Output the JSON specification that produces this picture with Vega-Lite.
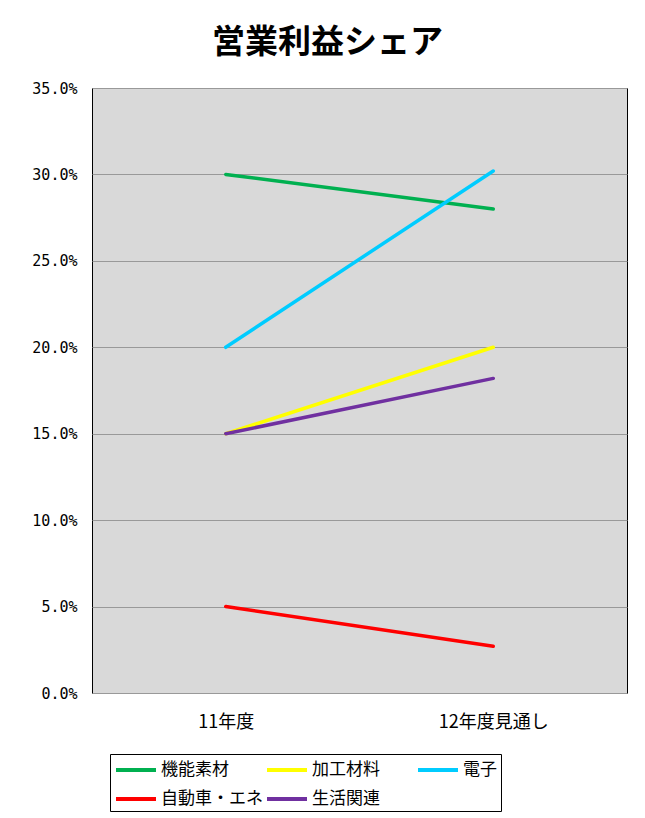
{
  "$schema": "https://vega.github.io/schema/vega-lite/v6.json",
  "autosize": {"type": "none"},
  "width": 535,
  "height": 605,
  "padding": {"left": 92, "top": 88, "right": 18, "bottom": 125},
  "background": "white",
  "title": {
    "text": "営業利益シェア",
    "font": "Noto Sans CJK JP",
    "fontSize": 33,
    "fontWeight": "bold",
    "color": "black",
    "anchor": "middle",
    "dx": -32,
    "offset": 21
  },
  "data": {
    "values": [
      {"year": "11年度", "series": "機能素材", "value": 0.300},
      {"year": "12年度見通し", "series": "機能素材", "value": 0.280},
      {"year": "11年度", "series": "加工材料", "value": 0.150},
      {"year": "12年度見通し", "series": "加工材料", "value": 0.200},
      {"year": "11年度", "series": "電子", "value": 0.200},
      {"year": "12年度見通し", "series": "電子", "value": 0.302},
      {"year": "11年度", "series": "自動車・エネ", "value": 0.050},
      {"year": "12年度見通し", "series": "自動車・エネ", "value": 0.027},
      {"year": "11年度", "series": "生活関連", "value": 0.150},
      {"year": "12年度見通し", "series": "生活関連", "value": 0.182}
    ]
  },
  "mark": {"type": "line", "strokeWidth": 3.5, "strokeCap": "round"},
  "encoding": {
    "x": {
      "field": "year",
      "type": "nominal",
      "sort": ["11年度", "12年度見通し"],
      "scale": {"type": "point", "padding": 0.5},
      "axis": {
        "title": null,
        "labelAngle": 0,
        "domain": false,
        "ticks": false,
        "labelFont": "Noto Sans CJK JP",
        "labelFontSize": 18,
        "labelColor": "black",
        "labelPadding": 20
      }
    },
    "y": {
      "field": "value",
      "type": "quantitative",
      "scale": {"domain": [0, 0.35], "nice": false},
      "axis": {
        "title": null,
        "format": ".1%",
        "values": [0, 0.05, 0.1, 0.15, 0.2, 0.25, 0.3, 0.35],
        "domain": false,
        "ticks": false,
        "grid": true,
        "gridColor": "#999999",
        "gridWidth": 1,
        "gridOpacity": 1,
        "labelFont": "DejaVu Sans Mono",
        "labelFontSize": 15,
        "labelColor": "black",
        "labelPadding": 15
      }
    },
    "color": {
      "field": "series",
      "type": "nominal",
      "sort": ["機能素材", "加工材料", "電子", "自動車・エネ", "生活関連"],
      "scale": {
        "domain": ["機能素材", "加工材料", "電子", "自動車・エネ", "生活関連"],
        "range": ["#00b050", "#ffff00", "#00ccff", "#ff0000", "#7030a0"]
      },
      "legend": {
        "title": null,
        "orient": "none",
        "legendX": 18,
        "legendY": 666,
        "direction": "horizontal",
        "columns": 3,
        "gridAlign": "all",
        "strokeColor": "black",
        "fillColor": "white",
        "padding": 4,
        "columnPadding": -4,
        "rowPadding": 9,
        "symbolType": "M-1,0H3",
        "symbolStrokeWidth": 4,
        "symbolSize": 400,
        "labelFont": "Noto Sans CJK JP",
        "labelFontSize": 17,
        "labelColor": "black",
        "labelOffset": 23,
        "labelLimit": 200
      }
    },
    "order": {"field": "series"}
  },
  "config": {
    "view": {"fill": "#d9d9d9", "stroke": "black", "strokeWidth": 1}
  }
}
